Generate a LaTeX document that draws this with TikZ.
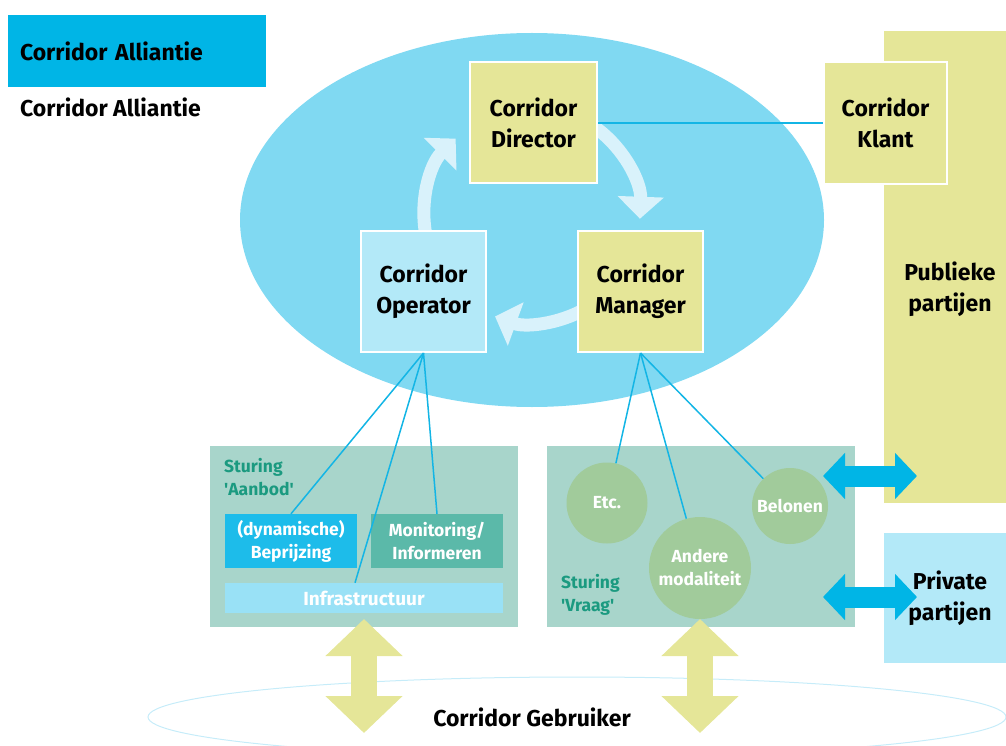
\documentclass[tikz,border=0pt]{standalone}
\usepackage{fontspec}
\setmainfont{Fira Sans}
\usetikzlibrary{arrows.meta}
\definecolor{allblue}{HTML}{00B5E6}
\definecolor{ellblue}{HTML}{80D9F2}
\definecolor{boxyellow}{HTML}{E5E698}
\definecolor{paleblue}{HTML}{B3E9F8}
\definecolor{panelgreen}{HTML}{A8D5CB}
\definecolor{tealtext}{HTML}{1B9A80}
\definecolor{prijsblue}{HTML}{1DBCEA}
\definecolor{monteal}{HTML}{5BB9A9}
\definecolor{infrablue}{HTML}{99E1F6}
\definecolor{circgreen}{HTML}{A1CB9B}
\definecolor{linkblue}{HTML}{13B5E5}
\definecolor{cyclewhite}{HTML}{D9F2FB}
\definecolor{userline}{HTML}{C6ECF9}
\tikzset{
  bigfont/.style={font=\bfseries\fontsize{23}{31}\selectfont},
  smallfont/.style={font=\bfseries\fontsize{17.5}{23}\selectfont},
  rolebox/.style={draw=white, line width=2pt, inner sep=0pt, align=center, bigfont},
  panel/.style={fill=panelgreen, inner sep=0pt, minimum width=308pt, minimum height=181pt},
  subbox/.style={inner sep=0pt, text=white, align=center, smallfont},
  themecirc/.style={circle, fill=circgreen, inner sep=0pt, text=white, align=center, smallfont},
  link/.style={draw=linkblue, line width=1.5pt},
  cycle/.style={draw=cyclewhite, line width=13pt, -{Triangle[width=45pt,length=22pt]}},
  sidearrow/.style={draw=allblue, line width=21pt, {Triangle[width=45pt,length=22pt]}-{Triangle[width=45pt,length=22pt]}},
  userarrow/.style={draw=boxyellow, line width=26pt, {Triangle[width=75pt,length=37pt]}-{Triangle[width=75pt,length=37pt]}},
  sturing/.style={text=tealtext, align=left, anchor=west, inner sep=0pt, smallfont}
}
\begin{document}
\begin{tikzpicture}[x=1pt,y=-1pt]
\useasboundingbox (0,0) rectangle (1006,746);

% legend
\node[fill=allblue, inner xsep=12pt, inner ysep=0pt, minimum height=72pt, text width=234pt, align=left, bigfont]
  (legend) at (137,51) {Corridor Alliantie};
\node[anchor=west, inner sep=0pt, bigfont] (legendtext) at (20,107) {Corridor Alliantie};

% user ellipse
\draw[userline, line width=1pt] (577,717) ellipse [x radius=429, y radius=40];
\node[bigfont] (user) at (532,717) {Corridor Gebruiker};

% alliance ellipse
\fill[ellblue] (532,220) ellipse [x radius=292, y radius=187];

% public and private parties
\node[fill=boxyellow, inner sep=0pt, minimum width=132pt, minimum height=472pt] (pub) at (950,267) {};
\node[bigfont, align=center] (pubtext) at (950,289) {Publieke\\partijen};
\node[fill=paleblue, inner sep=0pt, minimum width=132pt, minimum height=130pt, bigfont, align=center] (priv) at (950,598) {Private\\partijen};

% management cycle
\draw[cycle] (532,215) ++(-55:108) arc[start angle=-55, end angle=2, radius=108];
\draw[cycle] (532,215) ++(60:108) arc[start angle=60, end angle=110, radius=108];
\draw[cycle] (532,215) ++(168:108) arc[start angle=168, end angle=225, radius=108];

% roles
\node[rolebox, fill=boxyellow, minimum width=127pt, minimum height=121pt] (dir) at (533.5,122.5) {Corridor\\Director};
\node[rolebox, fill=boxyellow, minimum width=125pt, minimum height=121pt] (mgr) at (640.5,291.5) {Corridor\\Manager};
\node[rolebox, fill=paleblue, minimum width=125pt, minimum height=121pt] (op) at (423.5,291.5) {Corridor\\Operator};
\node[rolebox, fill=boxyellow, minimum width=123pt, minimum height=122pt] (klant) at (885.5,123) {Corridor\\Klant};
\draw[link] (dir.east |- 0,123) -- (klant.west |- 0,123);

% supply side
\node[panel] (aanbod) at (364,536.5) {};
\node[sturing] (aanbodtext) at (224,477) {Sturing\\\textquotesingle Aanbod\textquotesingle};
\node[subbox, fill=prijsblue, minimum width=132pt, minimum height=54pt] (bep) at (291,541) {(dynamische)\\Beprijzing};
\node[subbox, fill=monteal, minimum width=132pt, minimum height=54pt] (mon) at (437,541) {Monitoring/\\Informeren};
\node[subbox, fill=infrablue, minimum width=278pt, minimum height=30pt, font=\bfseries\fontsize{19}{23}\selectfont] (infra) at (364,598) {Infrastructuur};

% demand side
\node[panel] (vraag) at (701,536.5) {};
\node[sturing] (vraagtext) at (561,595) {Sturing\\\textquotesingle Vraag\textquotesingle};
\node[themecirc, minimum size=81pt] (etc) at (607,503) {Etc.};
\node[themecirc, minimum size=76pt] (bel) at (790,506) {Belonen};
\node[themecirc, minimum size=102pt] (andere) at (700,568) {Andere\\modaliteit};

% links from roles to instruments
\draw[link] (op.south) -- (bep.north);
\draw[link] (op.south) -- ([xshift=-9pt]infra.north);
\draw[link] (op.south) -- (mon.north);
\draw[link] (mgr.south) -- (etc);
\draw[link] (mgr.south) -- (andere);
\draw[link] (mgr.south) -- (bel);

% exchanges with parties and users
\coordinate (pa1) at (823,476);
\coordinate (pb1) at (917,476);
\coordinate (pa2) at (823,597);
\coordinate (pb2) at (917,597);
\draw[sidearrow] (pa1) -- (pb1);
\draw[sidearrow] (pa2) -- (pb2);
\coordinate (ua1) at (364,619);
\coordinate (ub1) at (364,733);
\coordinate (ua2) at (700,619);
\coordinate (ub2) at (700,733);
\draw[userarrow] (ua1) -- (ub1);
\draw[userarrow] (ua2) -- (ub2);
\end{tikzpicture}
\end{document}
